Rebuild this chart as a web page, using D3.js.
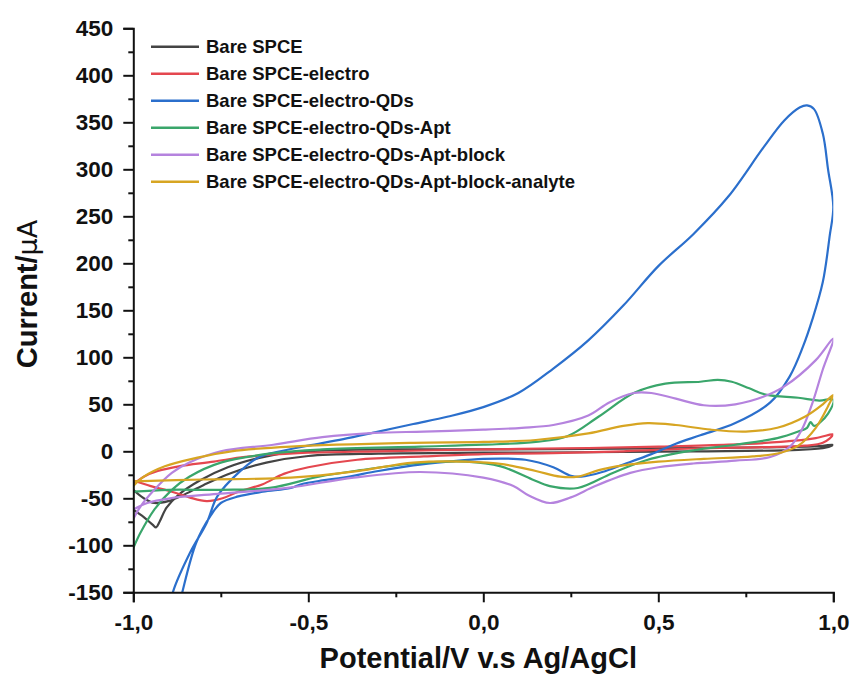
<!DOCTYPE html>
<html>
<head>
<meta charset="utf-8">
<script src="https://cdn.jsdelivr.net/npm/d3@7"></script>
<style>
  html, body { margin: 0; padding: 0; background: #fff; }
  svg { display: block; }
  text { font-family: "Liberation Sans", Arial, Helvetica, sans-serif; font-weight: bold; fill: #111; }
</style>
</head>
<body>
<svg id="chart" width="853" height="682"></svg>
<script>
// ---------------- data (potential V, current µA) ----------------
const seriesNames = [
  "Bare SPCE",
  "Bare SPCE-electro",
  "Bare SPCE-electro-QDs",
  "Bare SPCE-electro-QDs-Apt",
  "Bare SPCE-electro-QDs-Apt-block",
  "Bare SPCE-electro-QDs-Apt-block-analyte"
];
const seriesColors = ["#444444", "#e4474f", "#2b6fcc", "#3aa66b", "#b583de", "#d7a522"];

const bareSPCE = [
  [-1.0,-62],[-0.97,-70],[-0.945,-78],[-0.935,-81],[-0.925,-75],[-0.905,-60],[-0.87,-46],[-0.81,-31],
  [-0.73,-17],[-0.64,-7],[-0.55,-1],[-0.4,1.5],[-0.2,2],[0,2],[0.3,2.5],[0.6,3.5],[0.85,4.5],[0.96,5.5],
  [1.0,7],[0.98,4],[0.9,1.5],[0.6,0],[0.3,-1],[0,-1.5],[-0.3,-2.5],[-0.5,-5],[-0.62,-12],[-0.72,-23],
  [-0.8,-36],[-0.86,-47],[-0.9,-53],[-0.94,-55],[-0.97,-50],[-1.0,-41]
];
const electro = [
  [-1.0,-35],[-0.97,-27],[-0.93,-21],[-0.87,-16],[-0.77,-11],[-0.68,-6],[-0.53,-2],[-0.3,0],[0,2],
  [0.3,3.5],[0.5,5],[0.7,7],[0.85,10],[0.95,14],[1.0,18],[0.97,9],[0.92,6],[0.8,4.5],[0.6,3],[0.4,0],
  [0.2,-2],[0,-3],[-0.17,-5.5],[-0.36,-9],[-0.5,-17],[-0.57,-24],[-0.63,-35],[-0.70,-43],[-0.745,-50],
  [-0.79,-53],[-0.84,-49],[-0.89,-43],[-0.95,-37],[-1.0,-31]
];
const electroQDs = [
  [-0.90,-175],[-0.887,-150],[-0.838,-108],[-0.79,-76],[-0.76,-48],[-0.70,-23],[-0.64,-6],[-0.58,0],
  [-0.50,6],[-0.40,13],[-0.30,21],[-0.20,29],[-0.10,37],[0.0,47],[0.10,62],[0.20,88],[0.30,118],
  [0.40,155],[0.50,197],[0.60,231],[0.70,271],[0.80,323],[0.86,352],[0.905,366],[0.925,368],
  [0.945,364],[0.97,338],[0.985,300],[1.0,260],[0.99,230],[0.97,180],[0.94,140],[0.913,111],
  [0.876,80],[0.82,52],[0.72,30],[0.62,17],[0.55,8],[0.48,-3],[0.40,-14],[0.34,-22],[0.28,-27],
  [0.25,-26],[0.20,-17],[0.12,-9],[0.0,-8],[-0.1,-11],[-0.2,-15],[-0.3,-21],[-0.4,-28],[-0.46,-31],
  [-0.52,-35],[-0.55,-39],[-0.63,-43],[-0.70,-48],[-0.75,-55],[-0.78,-69],[-0.82,-97],[-0.86,-150],
  [-0.875,-175]
];
const electroQDsApt = [
  [-1.0,-103],[-0.98,-87],[-0.94,-62],[-0.89,-41],[-0.84,-27],[-0.75,-12],[-0.6,-2],[-0.46,2],[-0.18,5],
  [0,7],[0.15,10],[0.24,16],[0.33,37],[0.43,62],[0.52,72],[0.62,74],[0.67,76],[0.71,74],[0.76,67],
  [0.81,60],[0.9,57],[0.96,54],[1.0,55],[0.985,40],[0.96,30],[0.945,27],[0.935,31],[0.925,25],[0.9,21],
  [0.84,14],[0.72,7],[0.6,1],[0.47,-9],[0.37,-23],[0.27,-39],[0.19,-37],[0.14,-30],[0.05,-16],
  [-0.05,-11],[-0.2,-13],[-0.35,-20],[-0.47,-27],[-0.61,-39],[-0.75,-41],[-0.9,-41],[-1.0,-43]
];
const electroQDsAptBlock = [
  [-1.0,-72],[-0.98,-59],[-0.94,-41],[-0.89,-23],[-0.84,-12],[-0.75,0],[-0.6,7],[-0.46,15],[-0.31,19.5],
  [-0.17,21],[0,23],[0.11,25],[0.2,28],[0.3,38],[0.36,52],[0.43,62],[0.48,62],[0.55,56],[0.63,49],
  [0.72,50],[0.8,58],[0.86,69],[0.95,97],[1.0,120],[0.97,87],[0.94,51],[0.91,23],[0.876,5],[0.82,-6],
  [0.72,-10],[0.6,-13],[0.5,-17],[0.42,-23],[0.32,-37],[0.25,-49],[0.19,-55],[0.13,-47],[0.086,-37],
  [0,-28],[-0.18,-22],[-0.37,-28],[-0.56,-39],[-0.75,-45],[-0.895,-50],[-0.96,-55],[-1.0,-62]
];
const electroQDsAptBlockAnalyte = [
  [-1.0,-37],[-0.97,-27],[-0.91,-16],[-0.82,-7],[-0.72,0],[-0.55,5],[-0.2,9],[0,10],[0.15,12],[0.3,19],
  [0.4,27],[0.47,30],[0.55,28],[0.65,23],[0.75,21],[0.84,25],[0.92,37],[0.97,50],[1.0,60],[0.985,48],
  [0.95,25],[0.9,6],[0.85,-1.5],[0.77,-5.5],[0.63,-8],[0.5,-11],[0.4,-15],[0.33,-20],[0.27,-27],
  [0.22,-27],[0.15,-21],[0.06,-14],[-0.05,-11],[-0.2,-12],[-0.36,-21],[-0.55,-28],[-0.8,-30],[-1.0,-32]
];
const seriesData = [bareSPCE, electro, electroQDs, electroQDsApt, electroQDsAptBlock, electroQDsAptBlockAnalyte];

const xTicks = [-1.0, -0.5, 0.0, 0.5, 1.0];
const xTickLabels = ["-1,0", "-0,5", "0,0", "0,5", "1,0"];
const xMinorTicks = [-0.75, -0.25, 0.25, 0.75];
const yTicks = [-150, -100, -50, 0, 50, 100, 150, 200, 250, 300, 350, 400, 450];
const yMinorTicks = [-125, -75, -25, 25, 75, 125, 175, 225, 275, 325, 375, 425];
const xTitle = "Potential/V v.s Ag/AgCl";
const yTitleMain = "Current/";
const yTitleUnit = "μA";

// ---------------- layout ----------------
const svg = d3.select("#chart");
const pLeft = 133.3, pRight = 833.3, pTop = 28.3, pBottom = 592.3;

const x = d3.scaleLinear().domain([-1, 1]).range([pLeft, pRight]);
const y = d3.scaleLinear().domain([-150, 450]).range([pBottom, pTop]);

svg.append("defs").append("clipPath").attr("id", "plotclip")
  .append("rect").attr("x", pLeft).attr("y", pTop).attr("width", pRight - pLeft).attr("height", pBottom - pTop);

// curves
const line = d3.line().x(d => x(d[0])).y(d => y(d[1])).curve(d3.curveCatmullRom.alpha(0.5));
const plot = svg.append("g").attr("clip-path", "url(#plotclip)");
seriesData.forEach((s, i) => {
  plot.append("path").datum(s)
    .attr("d", line)
    .attr("fill", "none")
    .attr("stroke", seriesColors[i])
    .attr("stroke-width", 2.2)
    .attr("stroke-linejoin", "round");
});

// axes
const fmtY = d => String(d);
const yAxis = d3.axisLeft(y).tickValues(yTicks).tickFormat(fmtY).tickSize(10).tickPadding(10);
const gy = svg.append("g").attr("transform", `translate(${pLeft},0)`).call(yAxis);
gy.select(".domain").attr("stroke", "#111").attr("stroke-width", 2);
gy.selectAll(".tick line").attr("stroke", "#111").attr("stroke-width", 2);
gy.selectAll(".tick text").attr("font-size", 22.5).attr("font-weight", "bold")
  .attr("font-family", '"Liberation Sans", Arial, sans-serif').attr("fill", "#111");
const gym = svg.append("g").attr("transform", `translate(${pLeft},0)`)
  .call(d3.axisLeft(y).tickValues(yMinorTicks).tickFormat("").tickSize(5));
gym.select(".domain").remove();
gym.selectAll(".tick line").attr("stroke", "#111").attr("stroke-width", 2);

const xAxis = d3.axisBottom(x).tickValues(xTicks).tickFormat((d, i) => xTickLabels[i]).tickSize(10).tickPadding(12);
const gx = svg.append("g").attr("transform", `translate(0,${pBottom})`).call(xAxis);
gx.select(".domain").attr("stroke", "#111").attr("stroke-width", 2);
gx.selectAll(".tick line").attr("stroke", "#111").attr("stroke-width", 2);
gx.selectAll(".tick text").attr("font-size", 22.5).attr("font-weight", "bold")
  .attr("font-family", '"Liberation Sans", Arial, sans-serif').attr("fill", "#111");
const gxm = svg.append("g").attr("transform", `translate(0,${pBottom})`)
  .call(d3.axisBottom(x).tickValues(xMinorTicks).tickFormat("").tickSize(5));
gxm.select(".domain").remove();
gxm.selectAll(".tick line").attr("stroke", "#111").attr("stroke-width", 2);

// axis titles
svg.append("text").attr("x", (pLeft + pRight) / 2 - 5).attr("y", 668)
  .attr("text-anchor", "middle").attr("font-size", 29).text(xTitle);
const yt = svg.append("text").attr("transform", `translate(37,294) rotate(-90)`)
  .attr("text-anchor", "middle").attr("font-size", 29);
yt.append("tspan").text(yTitleMain);
yt.append("tspan").attr("font-weight", "normal").attr("font-family", '"DejaVu Sans", sans-serif').attr("font-size", 27).text(yTitleUnit);

// legend
const lg = svg.append("g");
seriesNames.forEach((name, i) => {
  const cy = 46.7 + i * 27;
  lg.append("line").attr("x1", 151).attr("x2", 199).attr("y1", cy).attr("y2", cy)
    .attr("stroke", seriesColors[i]).attr("stroke-width", 2.5);
  lg.append("text").attr("x", 206).attr("y", cy + 6.6).attr("font-size", 18.5).text(name);
});
</script>
</body>
</html>
